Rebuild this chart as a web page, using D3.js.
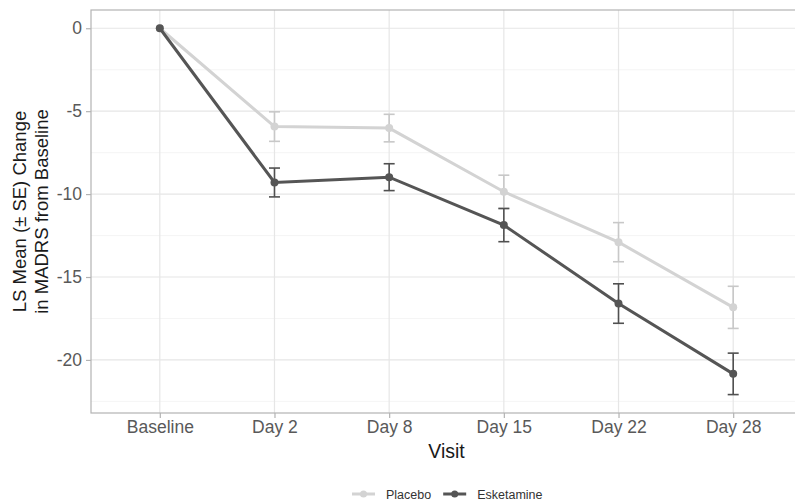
<!DOCTYPE html>
<html>
<head>
<meta charset="utf-8">
<script src="https://cdn.jsdelivr.net/npm/d3@7"></script>
<style>
  body { margin: 0; background: #fff; }
  text { font-family: "Liberation Sans", Arial, sans-serif; }
</style>
</head>
<body>
<div id="chart"></div>
<script>
const visits = ["Baseline", "Day 2", "Day 8", "Day 15", "Day 22", "Day 28"];
const placeboMean = [0, -5.93, -6.02, -9.86, -12.9, -16.83];
const placeboSE = [0, 0.89, 0.83, 1.0, 1.18, 1.27];
const esketamineMean = [0, -9.3, -8.98, -11.87, -16.6, -20.84];
const esketamineSE = [0, 0.87, 0.81, 1.0, 1.19, 1.25];
const yTicks = [0, -5, -10, -15, -20];
const yMinor = [-2.5, -7.5, -12.5, -17.5, -22.5];

const width = 795;
const height = 504;
const panel = { left: 91, right: 802, top: 10, bottom: 413 };

const svg = d3.select("#chart")
  .append("svg")
  .attr("width", width)
  .attr("height", height);

const x = d3.scalePoint()
  .domain(visits)
  .range([panel.left, panel.right])
  .padding(0.6);

const y = d3.scaleLinear()
  .domain([-23.2, 1.1])
  .range([panel.bottom, panel.top]);

// grid lines
const grid = svg.append("g");
grid.selectAll(".minor")
  .data(yMinor)
  .join("line")
  .attr("x1", panel.left).attr("x2", panel.right)
  .attr("y1", d => y(d)).attr("y2", d => y(d))
  .attr("stroke", "#f2f2f2")
  .attr("stroke-width", 0.8);
grid.selectAll(".major")
  .data(yTicks)
  .join("line")
  .attr("x1", panel.left).attr("x2", panel.right)
  .attr("y1", d => y(d)).attr("y2", d => y(d))
  .attr("stroke", "#e6e6e6")
  .attr("stroke-width", 1.2);
grid.selectAll(".vert")
  .data(visits)
  .join("line")
  .attr("x1", d => x(d)).attr("x2", d => x(d))
  .attr("y1", panel.top).attr("y2", panel.bottom)
  .attr("stroke", "#e6e6e6")
  .attr("stroke-width", 1.2);

// panel border
svg.append("rect")
  .attr("x", panel.left)
  .attr("y", panel.top)
  .attr("width", panel.right - panel.left)
  .attr("height", panel.bottom - panel.top)
  .attr("fill", "none")
  .attr("stroke", "#b3b3b3")
  .attr("stroke-width", 1.2);

// axes
const xAxis = svg.append("g")
  .attr("transform", `translate(0,${panel.bottom})`)
  .call(d3.axisBottom(x).tickSize(5).tickPadding(3));
const yAxis = svg.append("g")
  .attr("transform", `translate(${panel.left},0)`)
  .call(d3.axisLeft(y).tickValues(yTicks).tickSize(5).tickPadding(4).tickFormat(d => String(d)));

[xAxis, yAxis].forEach(a => {
  a.select(".domain").remove();
  a.selectAll(".tick line").attr("stroke", "#b3b3b3").attr("stroke-width", 1.2);
  a.selectAll(".tick text")
    .attr("fill", "#595959")
    .style("font-size", "17.5px");
});

const series = [
  { name: "Placebo", mean: placeboMean, se: placeboSE, color: "#d3d3d3", barColor: "#c8c8c8" },
  { name: "Esketamine", mean: esketamineMean, se: esketamineSE, color: "#555555", barColor: "#505050" }
];

const line = d3.line()
  .x((d, i) => x(visits[i]))
  .y(d => y(d));

series.forEach(s => {
  const g = svg.append("g");
  // error bars
  const bars = g.selectAll(".err")
    .data(visits.map((v, i) => ({ v, m: s.mean[i], e: s.se[i] })).filter(d => d.e > 0))
    .join("g");
  bars.append("line")
    .attr("x1", d => x(d.v)).attr("x2", d => x(d.v))
    .attr("y1", d => y(d.m + d.e)).attr("y2", d => y(d.m - d.e))
    .attr("stroke", s.barColor).attr("stroke-width", 1.6);
  bars.append("line")
    .attr("x1", d => x(d.v) - 5.5).attr("x2", d => x(d.v) + 5.5)
    .attr("y1", d => y(d.m + d.e)).attr("y2", d => y(d.m + d.e))
    .attr("stroke", s.barColor).attr("stroke-width", 1.6);
  bars.append("line")
    .attr("x1", d => x(d.v) - 5.5).attr("x2", d => x(d.v) + 5.5)
    .attr("y1", d => y(d.m - d.e)).attr("y2", d => y(d.m - d.e))
    .attr("stroke", s.barColor).attr("stroke-width", 1.6);
  s.g = g;
});

series.forEach(s => {
  s.g.append("path")
    .datum(s.mean)
    .attr("d", line)
    .attr("fill", "none")
    .attr("stroke", s.color)
    .attr("stroke-width", 3);
  s.g.selectAll("circle")
    .data(s.mean)
    .join("circle")
    .attr("cx", (d, i) => x(visits[i]))
    .attr("cy", d => y(d))
    .attr("r", 4)
    .attr("fill", s.color);
});

// axis titles
svg.append("text")
  .attr("x", (panel.left + panel.right) / 2)
  .attr("y", 458)
  .attr("text-anchor", "middle")
  .attr("fill", "#1a1a1a")
  .style("font-size", "19.5px")
  .text("Visit");

const yTitle = svg.append("text")
  .attr("transform", `translate(26,${(panel.top + panel.bottom) / 2}) rotate(-90)`)
  .attr("text-anchor", "middle")
  .attr("fill", "#1a1a1a")
  .style("font-size", "18.5px");
yTitle.append("tspan").attr("x", 0).attr("dy", 0).text("LS Mean (± SE) Change");
yTitle.append("tspan").attr("x", 0).attr("dy", 22).text("in MADRS from Baseline");

// legend
const legend = svg.append("g").attr("transform", "translate(0,494)");
let lx = 352;
series.forEach(s => {
  legend.append("line")
    .attr("x1", lx).attr("x2", lx + 23)
    .attr("y1", 0).attr("y2", 0)
    .attr("stroke", s.color).attr("stroke-width", 3);
  legend.append("circle")
    .attr("cx", lx + 11.5).attr("cy", 0).attr("r", 3.5)
    .attr("fill", s.color);
  const t = legend.append("text")
    .attr("x", lx + 34)
    .attr("y", 4.5)
    .attr("fill", "#333")
    .style("font-size", "12.5px")
    .text(s.name);
  lx += 34 + t.node().getComputedTextLength() + 12;
});
</script>
</body>
</html>
